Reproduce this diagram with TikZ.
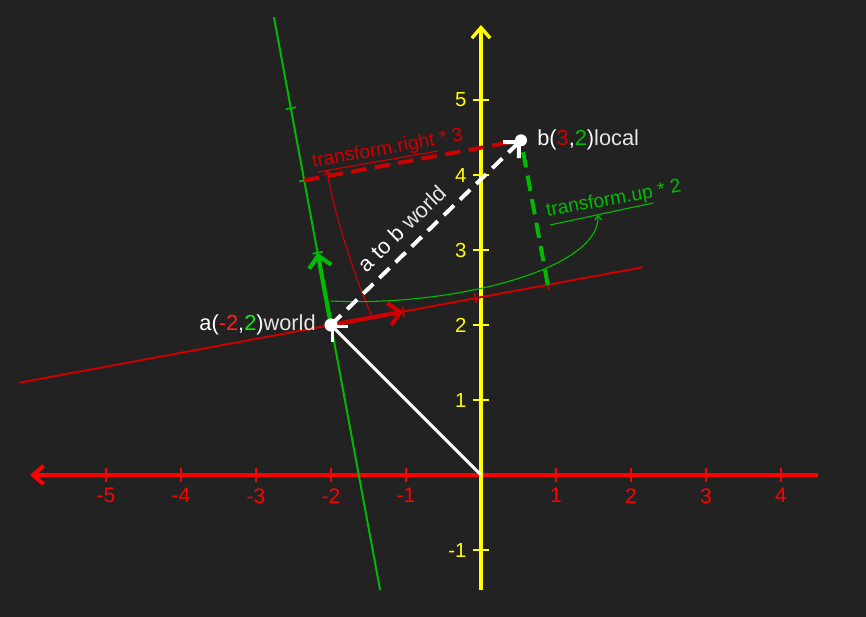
\documentclass[tikz,border=0pt]{standalone}
\usepackage{fontspec}
\setmainfont{Liberation Sans}
\usetikzlibrary{arrows.meta}
\definecolor{bg}{HTML}{222222}
\definecolor{axred}{HTML}{FF0000}
\definecolor{locred}{HTML}{CC0000}
\definecolor{locgreen}{HTML}{00BB00}
\definecolor{brred}{HTML}{FF2020}
\definecolor{brgreen}{HTML}{10EE10}
\definecolor{axyellow}{HTML}{FFFF00}
\definecolor{lightw}{HTML}{E6E6E6}
\tikzset{
  chev/.tip={Straight Barb[length=8pt,width=16pt]},
  axchev/.tip={Straight Barb[length=7.5pt,width=13pt]},
  smallchev/.tip={Straight Barb[length=3pt,width=5pt]},
  xaxis/.style={draw=axred, line width=2.8pt},
  yaxis/.style={draw=axyellow, line width=2.4pt},
  xtick/.style={draw=axred, line width=2pt},
  ytick/.style={draw=axyellow, line width=2pt},
  xlab/.style={text=axred, inner sep=0pt, font=\fontsize{15pt}{17pt}\selectfont},
  ylab/.style={text=axyellow, inner sep=0pt, font=\fontsize{14.5pt}{16pt}\selectfont},
  locline/.style={line width=1.4pt},
  locarrow/.style={line width=3pt, -chev},
  loctick/.style={line width=1.2pt},
  dashline/.style={line width=2.8pt, dash pattern=on 11pt off 6pt},
  thin/.style={line width=0.8pt, -smallchev},
  ptlab/.style={text=white, inner sep=0pt, font=\fontsize{15.5pt}{17pt}\selectfont},
  tlab/.style={inner sep=0pt, font=\fontsize{13.7pt}{15pt}\selectfont},
}
\begin{document}
\begin{tikzpicture}[x=1.875cm,y=1.875cm]
\fill[bg] (-6.4133,-1.8933) rectangle (5.1333,6.3333);
\useasboundingbox (-6.4133,-1.8933) rectangle (5.1333,6.3333);

% world axes
\coordinate (O) at (0,0);
\coordinate (xR) at (4.4933,0);
\coordinate (xL) at (-6.0133,0);
\coordinate (yB) at (0,-1.5333);
\coordinate (yT) at (0,6.0);
\draw[xaxis, -axchev] (xR) -- (xL);
\foreach \x in {-5,-4,-3,-2,-1,1,2,3,4} {
  \draw[xtick] (\x,-0.093) -- (\x,0.093);
  \node[xlab, anchor=north] (xl\x) at (\x,-0.175) {\x};
}
\draw[yaxis, -axchev] (yB) -- (yT);
\foreach \y in {-1,1,2,3,4,5} {
  \draw[ytick] (-0.107,\y) -- (0.107,\y);
  \node[ylab, anchor=east] (yl\y) at (-0.19,\y) {\y};
}

% local frame
\begin{scope}[shift={(-2,2)}, rotate=10.5, scale=0.98]
  \coordinate (a) at (0,0);
  \coordinate (rR) at (4.31,0);
  \coordinate (rL) at (-4.31,0);
  \coordinate (gT) at (0,4.26);
  \coordinate (gB) at (0,-3.67);
  \coordinate (e1) at (1,0);
  \coordinate (u1) at (0,1);
  \coordinate (u2) at (0,2);
  \coordinate (e3) at (3,0);
  \coordinate (b) at (3,2);
  \draw[locline, locred] (rL) -- (rR);
  \draw[locline, locgreen] (gB) -- (gT);
  \foreach \i in {1,2,3} {
    \draw[loctick, locred] (\i,-0.07) -- (\i,0.07);
    \draw[loctick, locgreen] (-0.07,\i) -- (0.07,\i);
  }
\end{scope}

\draw[locarrow, locred] (a) -- (e1);
\draw[locarrow, locgreen] (a) -- (u1);
\draw[dashline, locred] (u2) -- (b);
\draw[dashline, locgreen] (e3) -- (b);

% thin annotation curves
\coordinate (rs) at (-1.4533,2.12);
\coordinate (re) at (-2.0533,4.0667);
\draw[thin, locred] (rs) .. controls (-1.653,2.533) and (-1.9733,3.5333) .. (re);
\coordinate (ru1) at (-2.1733,4.04);
\coordinate (ru2) at (-0.5733,4.32);
\draw[line width=0.8pt, locred] (ru1) -- (ru2);
\node[tlab, text=locred, anchor=base west, rotate=10.5] (rlab) at (-2.24,4.0933) {transform.right * 3};

\coordinate (gs) at (-2,2.32);
\coordinate (ge) at (1.56,3.4667);
\draw[thin, locgreen] (gs) .. controls (-0.4133,2.24) and (1.5867,2.733) .. (ge);
\coordinate (gu1) at (0.92,3.3333);
\coordinate (gu2) at (2.2933,3.6267);
\draw[line width=0.8pt, locgreen] (gu1) -- (gu2);
\node[tlab, text=locgreen, anchor=base west, rotate=10.5] (glab) at (0.88,3.44) {transform.up * 2};

% white vectors
\draw[white, line width=2.2pt, -chev] (O) -- (a);
\draw[white, line width=2.8pt, dash pattern=on 10pt off 6pt, -chev] (a) -- (b);
\fill[white] (a) circle (0.087);
\fill[white] (b) circle (0.08);

% labels
\node[ptlab, anchor=base east] (alab) at (-2.2,1.92) {a(\textcolor{brred}{-2},\textcolor{brgreen}{2})\textcolor{lightw}{world}};
\node[ptlab, anchor=base west] (blab) at (0.7467,4.3867) {b(\textcolor{locred}{3},\textcolor{locgreen}{2})\textcolor{lightw}{local}};
\node[ptlab, anchor=base west, rotate=44] (ablab) at (-1.53,2.69) {a to b \textcolor{lightw}{world}};
\end{tikzpicture}
\end{document}
